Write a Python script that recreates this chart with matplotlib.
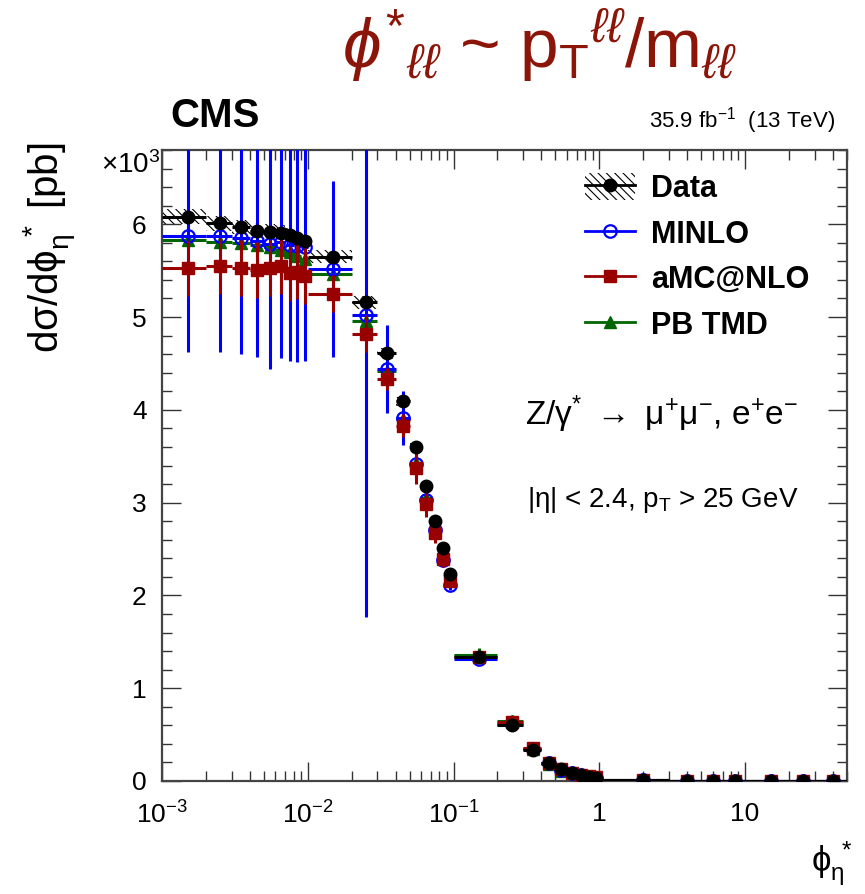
import matplotlib
matplotlib.use("Agg")
import matplotlib.pyplot as plt
from matplotlib.patches import Rectangle
from matplotlib.lines import Line2D
import numpy as np

plt.rcParams['font.family'] = ['Liberation Sans', 'DejaVu Sans']
plt.rcParams['mathtext.fontset'] = 'custom'
plt.rcParams['mathtext.rm'] = 'Liberation Sans'
plt.rcParams['mathtext.it'] = 'Liberation Sans:italic'
plt.rcParams['mathtext.bf'] = 'Liberation Sans:bold'
plt.rcParams['hatch.linewidth'] = 0.8

# ---------------- data (values in units of 10^3 pb) ----------------
bin_lo = [0.001, 0.002, 0.003, 0.004, 0.005, 0.006, 0.007, 0.008, 0.009,
          0.01, 0.02, 0.03, 0.04, 0.05, 0.06, 0.07, 0.08, 0.09,
          0.1, 0.2, 0.3, 0.4, 0.5, 0.6, 0.7, 0.8, 0.9,
          1, 3, 5, 7, 10, 20, 30]
bin_hi = [0.002, 0.003, 0.004, 0.005, 0.006, 0.007, 0.008, 0.009, 0.01,
          0.02, 0.03, 0.04, 0.05, 0.06, 0.07, 0.08, 0.09, 0.1,
          0.2, 0.3, 0.4, 0.5, 0.6, 0.7, 0.8, 0.9, 1.0,
          3, 5, 7, 10, 20, 30, 50]
phistar = [0.0015, 0.0025, 0.0035, 0.0045, 0.0055, 0.0065, 0.0075, 0.0085, 0.0095,
           0.015, 0.025, 0.035, 0.045, 0.055, 0.065, 0.075, 0.085, 0.095,
           0.15, 0.25, 0.35, 0.45, 0.55, 0.65, 0.75, 0.85, 0.95,
           2, 4, 6, 8.5, 15, 25, 40]

data = [6.08, 6.01, 5.97, 5.93, 5.92, 5.91, 5.88, 5.85, 5.82,
        5.65, 5.16, 4.61, 4.09, 3.60, 3.18, 2.80, 2.51, 2.23,
        1.34, 0.60, 0.33, 0.19, 0.13, 0.09, 0.06, 0.045, 0.035,
        0.010, 0.004, 0.0025, 0.0018, 0.0009, 0.0005, 0.0003]
data_stat = [0.01, 0.01, 0.01, 0.01, 0.01, 0.01, 0.01, 0.01, 0.01,
             0.01, 0.01, 0.01, 0.01, 0.01, 0.01, 0.01, 0.01, 0.01,
             0.01, 0.005, 0.003, 0.002, 0.001, 0.001, 0.001, 0.001, 0.001,
             0.0002, 0.0001, 0.0001, 0.0001, 0.0001, 0.0001, 0.0001]
data_sys = [0.08, 0.08, 0.08, 0.08, 0.08, 0.08, 0.08, 0.08, 0.08,
            0.07, 0.07, 0.06, 0.05, 0.045, 0.04, 0.035, 0.03, 0.03,
            0.017, 0.008, 0.005, 0.003, 0.002, 0.001, 0.001, 0.001, 0.001,
            0.0002, 0.0001, 0.0001, 0.0001, 0.0001, 0.0001, 0.0001]

minlo = [5.87, 5.87, 5.85, 5.82, 5.79, 5.81, 5.78, 5.77, 5.75,
         5.52, 5.02, 4.44, 3.91, 3.42, 3.03, 2.70, 2.38, 2.11,
         1.31, 0.61, 0.34, 0.19, 0.12, 0.085, 0.06, 0.045, 0.035,
         0.010, 0.004, 0.0025, 0.0018, 0.0009, 0.0005, 0.0003]
minlo_err = [1.25, 1.25, 1.25, 1.25, 1.35, 1.25, 1.25, 1.25, 1.22,
             0.95, 3.25, 0.47, 0.29, 0.15, 0.10, 0.08, 0.06, 0.05,
             0.03, 0.015, 0.01, 0.008, 0.005, 0.004, 0.003, 0.002, 0.002,
             0.0005, 0.0003, 0.0002, 0.0002, 0.0001, 0.0001, 0.0001]

amcnlo = [5.53, 5.55, 5.53, 5.51, 5.53, 5.55, 5.47, 5.49, 5.44,
          5.25, 4.82, 4.33, 3.83, 3.37, 2.98, 2.67, 2.39, 2.15,
          1.34, 0.64, 0.36, 0.19, 0.13, 0.09, 0.065, 0.05, 0.04,
          0.010, 0.004, 0.0025, 0.0018, 0.0009, 0.0005, 0.0003]
amcnlo_err = [0.30, 0.30, 0.30, 0.30, 0.30, 0.30, 0.30, 0.30, 0.30,
              0.20, 0.20, 0.12, 0.12, 0.17, 0.13, 0.10, 0.08, 0.06,
              0.03, 0.02, 0.015, 0.01, 0.008, 0.006, 0.005, 0.004, 0.003,
              0.0005, 0.0003, 0.0002, 0.0002, 0.0001, 0.0001, 0.0001]

pbtmd = [5.83, 5.81, 5.80, 5.78, 5.75, 5.72, 5.70, 5.66, 5.62,
         5.46, 4.96, 4.42, 3.90, 3.43, 3.05, 2.73, 2.42, 2.17,
         1.36, 0.65, 0.35, 0.18, 0.11, 0.075, 0.05, 0.04, 0.03,
         0.009, 0.0035, 0.002, 0.0015, 0.0008, 0.0004, 0.0002]
pbtmd_err = [0.03, 0.03, 0.03, 0.03, 0.03, 0.03, 0.03, 0.03, 0.03,
             0.03, 0.03, 0.03, 0.03, 0.03, 0.03, 0.03, 0.03, 0.03,
             0.07, 0.06, 0.03, 0.02, 0.01, 0.01, 0.005, 0.005, 0.005,
             0.001, 0.0005, 0.0003, 0.0002, 0.0001, 0.0001, 0.0001]

x_ticks = [1e-3, 1e-2, 1e-1, 1, 10]
x_ticklabels = [r'10$^{-3}$', r'10$^{-2}$', r'10$^{-1}$', '1', '10']
y_ticks = [0, 1, 2, 3, 4, 5, 6]

C_BLUE = '#0000ff'
C_RED = '#990000'
C_GREEN = '#006600'
C_TITLE = '#8b1508'

# ---------------- figure ----------------
W, H = 865, 894
fig = plt.figure(figsize=(W / 100, H / 100), dpi=100)
ax = fig.add_axes([162 / W, 1 - 781 / H, (847 - 162) / W, (781 - 150) / H])

x = np.array(phistar)
lo = np.array(bin_lo)
hi = np.array(bin_hi)
xerr = np.vstack([x - lo, hi - x])

# hatched systematic band for data
ax.bar(lo, 2 * np.array(data_sys), width=hi - lo, bottom=np.array(data) - np.array(data_sys),
       align='edge', fill=False, hatch='\\\\\\\\', linewidth=0, edgecolor='black', zorder=1)

common = dict(linestyle='none', capsize=0, elinewidth=2.2)
ax.errorbar(x, pbtmd, yerr=pbtmd_err, xerr=xerr, marker='^', ms=8.5, color=C_GREEN,
            ecolor=C_GREEN, zorder=2, **common)
ax.errorbar(x, minlo, yerr=minlo_err, xerr=xerr, marker='o', ms=9, mfc='none', mew=1.6,
            color=C_BLUE, ecolor=C_BLUE, zorder=3, **common)
ax.errorbar(x, amcnlo, yerr=amcnlo_err, xerr=xerr, marker='s', ms=8, color=C_RED,
            ecolor=C_RED, zorder=4, **common)
ax.errorbar(x, data, yerr=data_stat, xerr=xerr, marker='o', ms=9, color='black',
            ecolor='black', zorder=5, **common)

ax.set_xscale('log')
ax.set_xlim(1e-3, 50)
ax.set_ylim(0, 6.8)

ax.set_xticks(x_ticks)
ax.set_xticklabels(x_ticklabels)
ax.set_yticks(y_ticks)
ax.set_yticklabels([str(v) for v in y_ticks])
ax.yaxis.set_minor_locator(matplotlib.ticker.MultipleLocator(0.2))
ax.xaxis.set_minor_locator(matplotlib.ticker.LogLocator(base=10, subs=np.arange(2, 10)))
ax.xaxis.set_minor_formatter(matplotlib.ticker.NullFormatter())

ax.tick_params(which='both', direction='in', top=True, right=True, width=1.0, color='#333333')
ax.tick_params(which='major', length=14, labelsize=19)
ax.tick_params(which='minor', length=7)
ax.tick_params(axis='x', which='major', pad=15)
ax.tick_params(axis='y', which='major', pad=11)
for s in ax.spines.values():
    s.set_linewidth(1.6)
    s.set_color('#444444')

ax.set_ylabel(r'd$\mathrm{\sigma}$/d$\mathrm{\phi}_{\mathrm{\eta}}^{\ *}$ [pb]', fontsize=29, loc='top')
ax.yaxis.set_label_coords(-0.122, 1.012)
ax.set_xlabel(r'$\mathrm{\phi}_{\mathrm{\eta}}^{\ *}$', fontsize=25, loc='right')
ax.xaxis.set_label_coords(1.008, -0.094)

fig.text(160 / W, 1 - 173 / H, r'$\times$10$^{3}$', ha='right', va='baseline', fontsize=20)

# header texts
fig.text(170 / W, 1 - 127 / H, 'CMS', fontsize=29, fontweight='bold', ha='left', va='baseline')
fig.text(835 / W, 1 - 127 / H, r'35.9 fb$^{-1}$  (13 TeV)', fontsize=16, ha='right', va='baseline')
fig.text(540 / W, 1 - 68 / H,
         r'$\phi^{*}$$_{\ell\ell}$ ~ p$_{\mathrm{T}}$$^{\ell\ell}$/m$_{\ell\ell}$',
         fontsize=50, color=C_TITLE, ha='center', va='baseline')

ax.text((525 - 162) / 685, (781 - 425) / 631,
        r'Z/$\mathrm{\gamma}^{*}$ $\rightarrow$ $\mathrm{\mu}^{+}\mathrm{\mu}^{-}$, e$^{+}$e$^{-}$',
        transform=ax.transAxes, fontsize=24, ha='left', va='baseline')
ax.text((527 - 162) / 685, (781 - 507) / 631,
        r'|$\mathrm{\eta}$| < 2.4, p$_{\mathrm{T}}$ > 25 GeV',
        transform=ax.transAxes, fontsize=20, ha='left', va='baseline')

# legend
h_data = (Rectangle((0, 0), 1, 1, fill=False, hatch='\\\\\\\\', linewidth=0),
          Line2D([], [], color='black', marker='o', ms=9, lw=2))
h_minlo = Line2D([], [], color=C_BLUE, marker='o', ms=9, mfc='none', mew=1.6, lw=2)
h_amc = Line2D([], [], color=C_RED, marker='s', ms=8, lw=2)
h_pb = Line2D([], [], color=C_GREEN, marker='^', ms=8.5, lw=2)
ax.legend([h_data, h_minlo, h_amc, h_pb], ['Data', 'MINLO', 'aMC@NLO', 'PB TMD'],
          loc='upper left', bbox_to_anchor=((585 - 162) / 685, (781 - 173) / 631),
          frameon=False, borderpad=0, borderaxespad=0, handlelength=1.65, handleheight=1.0,
          handletextpad=0.5, labelspacing=0.47,
          prop={'family': 'Liberation Sans', 'weight': 'bold', 'size': 22})

fig.savefig('out.png', dpi=100)
